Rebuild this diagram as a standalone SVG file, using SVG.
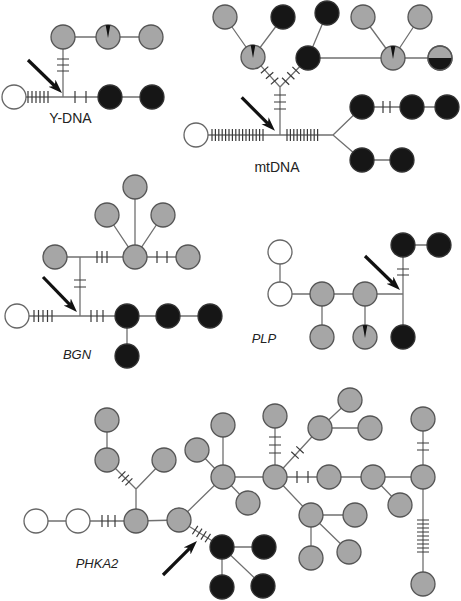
<svg xmlns="http://www.w3.org/2000/svg" width="461" height="601" viewBox="0 0 461 601">
<style>
.ln{stroke:#707070;stroke-width:1.3;fill:none}
.tk{stroke:#3a3a3a;stroke-width:1.2;fill:none}
.g{fill:#a6a6a6;stroke:#555;stroke-width:1.3}
.b{fill:#161616;stroke:#333;stroke-width:1.3}
.w{fill:#fff;stroke:#666;stroke-width:1.3}
.o{fill:none;stroke:#555;stroke-width:1.3}
.wd{fill:#111}
.arr{stroke:#111;stroke-width:3.2;fill:none;marker-end:url(#ah)}
.lbl{font-family:"Liberation Sans",Arial,sans-serif;font-size:14px;fill:#222}
.it{font-style:italic;font-size:13px}
</style>
<defs>
<marker id="ah" markerUnits="userSpaceOnUse" markerWidth="16" markerHeight="12" refX="4" refY="5" orient="auto" viewBox="0 0 16 12">
<path d="M0 0L14 5L0 10L4 5Z" fill="#111"/>
</marker>
</defs>
<g id="connectors">
<!-- Y-DNA -->
<path class="ln" d="M14 97H152M63 97V37M63 37H151"/>
<path class="tk" d="M28 91v12M32 91v12M36 91v12M40 91v12M44 91v12M48 91v12M75 91v12M86 91v12M57 59h12M57 65h12M57 71h12"/>
<!-- mtDNA -->
<path class="ln" d="M196 135H333M280 135V87M280 87L253 57M280 87L308 58M253 57L225 17M253 57L283 17M308 58L327 13M308 58H393M393 58L363 17M393 58L420 17M393 58H440M333 135L362 107M333 135L362 160M362 107H447M362 160H402"/>
<path class="tk" d="M212 129v12M215.4 129v12M218.8 129v12M222.2 129v12M225.6 129v12M229 129v12M232.4 129v12M235.8 129v12M239.2 129v12M242.6 129v12M246 129v12M249.4 129v12M252.8 129v12M256.2 129v12M259.6 129v12M263 129v12"/>
<path class="tk" d="M287 129v12M290.4 129v12M293.8 129v12M297.2 129v12M300.6 129v12M304 129v12M307.4 129v12M310.8 129v12M314.2 129v12M317.6 129v12"/>
<path class="tk" d="M274 95h12M274 102h12M274 109h12"/>
<path class="tk" d="M270.9 84.4L278.3 77.8M265.9 78.8L273.3 72.2M260.9 73.2L268.3 66.6M282 77.7L289.2 84.7M287.2 72.3L294.4 79.3M292.4 66.9L299.6 73.9"/>
<path class="tk" d="M383 101v12M390 101v12"/>
<!-- BGN -->
<path class="ln" d="M17 316H210M127 316V356M80 316V257M55 257H188M135 257V187M135 257L107 215M135 257L163 215"/>
<path class="tk" d="M34 310v12M38.5 310v12M43 310v12M47.5 310v12M52 310v12M91 310v12M97 310v12M103 310v12M74 280h12M74 287h12M97 251v12M102 251v12M107 251v12M157 251v12M167 251v12"/>
<!-- PLP -->
<path class="ln" d="M280 252V294H403M403 245V337M403 245H439M322 294V337M365 294V337"/>
<path class="tk" d="M397 269h12M397 275h12"/>
<!-- PHKA2 -->
<path class="ln" d="M36 521H136L179 520M136 521V489M136 489L107 460M136 489L164 460M107 460V420M179 520L223 477M179 520L222 547M222 547H264M222 547V587M222 547L263 586M223 477V425M223 477L197 450M223 477L248 503M223 477H423M275 477V416M275 477L320 428M275 477L311 515M320 428L350 400M320 428H370M373 477L400 505M311 515H355M311 515V558M311 515L349 552M423 477V419M423 477V584"/>
<path class="tk" d="M102 515v12M108 515v12M115 515v12"/>
<path class="tk" d="M125.4 485.4L132.4 478.4M121.9 481.9L128.9 474.9M118.4 478.4L125.4 471.4"/>
<path class="tk" d="M192.4 534.3L197.8 525.9M196.6 537L202 528.6M200.9 539.6L206.3 531.2M205.1 542.3L210.5 533.9"/>
<path class="tk" d="M269 437h12M269 445h12M269 453h12M291.3 451.8L298.7 458.6M296.3 446.4L303.7 453.2M297 471v12M308 471v12"/>
<path class="tk" d="M417 443h12M417 450h12M417 520h12M417 524h12M417 528h12M417 532h12M417 536h12M417 540h12M417 544h12M417 548h12M417 552h12"/>
</g>
<g id="nodes">
<!-- Y-DNA -->
<g id="y_w1"><circle class="w" cx="14" cy="97" r="12"/></g>
<g id="y_b1"><circle class="b" cx="110" cy="97" r="12"/></g>
<g id="y_b2"><circle class="b" cx="152" cy="97" r="12"/></g>
<g id="y_g1"><circle class="g" cx="63" cy="37" r="12"/></g>
<g id="y_g2"><circle class="g" cx="108" cy="37" r="12"/><path class="wd" d="M108 38L105.7 25.2A12 12 0 0 1 110.3 25.2Z"/></g>
<g id="y_g3"><circle class="g" cx="151" cy="37" r="12"/></g>
<!-- mtDNA -->
<g id="m_w1"><circle class="w" cx="196" cy="135" r="12"/></g>
<g id="m_g1"><circle class="g" cx="253" cy="57" r="12"/><path class="wd" d="M253 58L250.7 45.2A12 12 0 0 1 255.3 45.2Z"/></g>
<g id="m_g2"><circle class="g" cx="225" cy="17" r="12"/></g>
<g id="m_b1"><circle class="b" cx="283" cy="17" r="12"/></g>
<g id="m_b2"><circle class="b" cx="308" cy="58" r="12"/></g>
<g id="m_b3"><circle class="b" cx="327" cy="13" r="12"/></g>
<g id="m_g3"><circle class="g" cx="393" cy="58" r="12"/><path class="wd" d="M393 59L390.7 46.2A12 12 0 0 1 395.3 46.2Z"/></g>
<g id="m_g4"><circle class="g" cx="363" cy="17" r="12"/></g>
<g id="m_g5"><circle class="g" cx="420" cy="17" r="12"/></g>
<g id="m_h1"><circle class="g" cx="440" cy="58" r="12"/><path fill="#161616" d="M428 58A12 12 0 0 0 452 58Z"/><circle class="o" cx="440" cy="58" r="12"/></g>
<g id="m_b4"><circle class="b" cx="362" cy="107" r="12"/></g>
<g id="m_b5"><circle class="b" cx="412" cy="107" r="12"/></g>
<g id="m_b6"><circle class="b" cx="447" cy="107" r="12"/></g>
<g id="m_b7"><circle class="b" cx="362" cy="160" r="12"/></g>
<g id="m_b8"><circle class="b" cx="402" cy="160" r="12"/></g>
<!-- BGN -->
<g id="b_w1"><circle class="w" cx="17" cy="316" r="12"/></g>
<g id="b_b1"><circle class="b" cx="127" cy="316" r="12"/></g>
<g id="b_b2"><circle class="b" cx="168" cy="316" r="12"/></g>
<g id="b_b3"><circle class="b" cx="210" cy="316" r="12"/></g>
<g id="b_b4"><circle class="b" cx="127" cy="356" r="12"/></g>
<g id="b_g1"><circle class="g" cx="55" cy="257" r="12"/></g>
<g id="b_g2"><circle class="g" cx="135" cy="257" r="12"/></g>
<g id="b_g3"><circle class="g" cx="188" cy="257" r="12"/></g>
<g id="b_g4"><circle class="g" cx="135" cy="187" r="12"/></g>
<g id="b_g5"><circle class="g" cx="107" cy="215" r="12"/></g>
<g id="b_g6"><circle class="g" cx="163" cy="215" r="12"/></g>
<!-- PLP -->
<g id="p_w1"><circle class="w" cx="280" cy="252" r="12"/></g>
<g id="p_w2"><circle class="w" cx="280" cy="294" r="12"/></g>
<g id="p_g1"><circle class="g" cx="322" cy="294" r="12"/></g>
<g id="p_g2"><circle class="g" cx="365" cy="294" r="12"/></g>
<g id="p_g3"><circle class="g" cx="322" cy="337" r="12"/></g>
<g id="p_g4"><circle class="g" cx="365" cy="337" r="12"/><path class="wd" d="M365 338L362.7 325.2A12 12 0 0 1 367.3 325.2Z"/></g>
<g id="p_b1"><circle class="b" cx="403" cy="245" r="12"/></g>
<g id="p_b2"><circle class="b" cx="439" cy="245" r="12"/></g>
<g id="p_b3"><circle class="b" cx="403" cy="337" r="12"/></g>
<!-- PHKA2 -->
<g id="k_w1"><circle class="w" cx="36" cy="521" r="12"/></g>
<g id="k_w2"><circle class="w" cx="78" cy="521" r="12"/></g>
<g id="k_g1"><circle class="g" cx="136" cy="521" r="12"/></g>
<g id="k_g2"><circle class="g" cx="179" cy="520" r="12"/></g>
<g id="k_ga"><circle class="g" cx="107" cy="460" r="12"/></g>
<g id="k_gb"><circle class="g" cx="164" cy="460" r="12"/></g>
<g id="k_gc"><circle class="g" cx="107" cy="420" r="12"/></g>
<g id="k_gd"><circle class="g" cx="223" cy="477" r="12"/></g>
<g id="k_ge"><circle class="g" cx="223" cy="425" r="12"/></g>
<g id="k_gf"><circle class="g" cx="197" cy="450" r="12"/></g>
<g id="k_gg"><circle class="g" cx="248" cy="503" r="12"/></g>
<g id="k_gh"><circle class="g" cx="275" cy="477" r="12"/></g>
<g id="k_gi"><circle class="g" cx="275" cy="416" r="12"/></g>
<g id="k_gj"><circle class="g" cx="320" cy="428" r="12"/></g>
<g id="k_gk"><circle class="g" cx="350" cy="400" r="12"/></g>
<g id="k_gl"><circle class="g" cx="370" cy="428" r="12"/></g>
<g id="k_gm"><circle class="g" cx="329" cy="477" r="12"/></g>
<g id="k_gn"><circle class="g" cx="373" cy="477" r="12"/></g>
<g id="k_go"><circle class="g" cx="423" cy="477" r="12"/></g>
<g id="k_gp"><circle class="g" cx="400" cy="505" r="12"/></g>
<g id="k_gq"><circle class="g" cx="311" cy="515" r="12"/></g>
<g id="k_gr"><circle class="g" cx="355" cy="515" r="12"/></g>
<g id="k_gs"><circle class="g" cx="311" cy="558" r="12"/></g>
<g id="k_gt"><circle class="g" cx="349" cy="552" r="12"/></g>
<g id="k_gu"><circle class="g" cx="423" cy="419" r="12"/></g>
<g id="k_gv"><circle class="g" cx="423" cy="584" r="12"/></g>
<g id="k_ba"><circle class="b" cx="222" cy="547" r="12"/></g>
<g id="k_bb"><circle class="b" cx="264" cy="547" r="12"/></g>
<g id="k_bc"><circle class="b" cx="222" cy="587" r="12"/></g>
<g id="k_bd"><circle class="b" cx="263" cy="586" r="12"/></g>
</g>
<g id="arrows">
<path class="arr" d="M28 60L54.8 86"/>
<path class="arr" d="M241.7 97.3L267.9 123.6"/>
<path class="arr" d="M43 277L70 304.8"/>
<path class="arr" d="M365 256L392.8 283"/>
<path class="arr" d="M163 575L189.9 548.1"/>
</g>
<g id="labels">
<text class="lbl" x="70.5" y="123" text-anchor="middle">Y-DNA</text>
<text class="lbl" x="277" y="172" text-anchor="middle">mtDNA</text>
<text class="lbl it" x="77" y="359" text-anchor="middle">BGN</text>
<text class="lbl it" x="264" y="343" text-anchor="middle">PLP</text>
<text class="lbl it" x="97" y="568" text-anchor="middle">PHKA2</text>
</g>
</svg>
